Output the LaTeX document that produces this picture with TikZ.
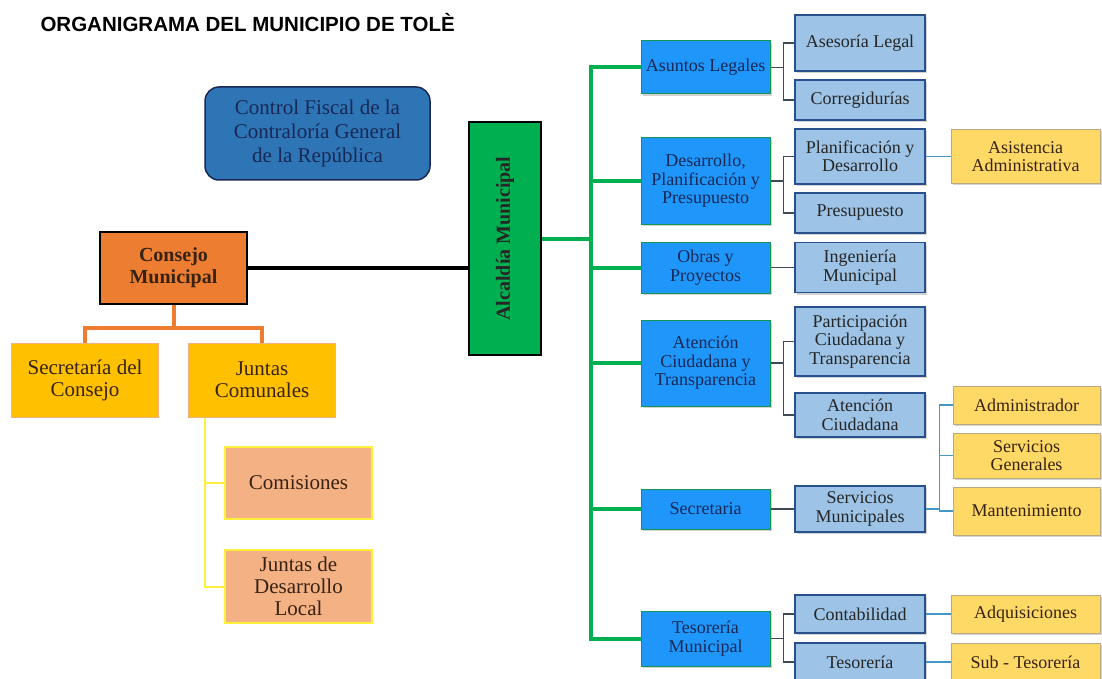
\documentclass[tikz,border=0pt]{standalone}
\usepackage{fontspec}
\setmainfont{Liberation Serif}
\newfontfamily\titrefont{Liberation Sans}
\usetikzlibrary{shadows}
\definecolor{bleufiscal}{RGB}{46,117,182}
\definecolor{bleuvif}{RGB}{30,150,250}
\definecolor{bleuclair}{RGB}{157,195,230}
\definecolor{bleubord}{RGB}{40,80,140}
\definecolor{marine}{RGB}{25,40,85}
\definecolor{vertalc}{RGB}{0,176,80}
\definecolor{vertbord}{RGB}{20,150,80}
\definecolor{orangec}{RGB}{237,125,49}
\definecolor{orsec}{RGB}{255,192,0}
\definecolor{saumon}{RGB}{244,177,131}
\definecolor{jaunec}{RGB}{255,217,102}
\definecolor{jaunebord}{RGB}{185,170,130}
\definecolor{jauneligne}{RGB}{255,240,60}
\definecolor{brun}{RGB}{55,35,20}
\definecolor{gristeal}{RGB}{60,75,85}
\definecolor{bleuligne}{RGB}{70,150,200}
\begin{document}
\begin{tikzpicture}[x=1pt,y=-1pt]
			\tikzstyle{boite}=[rectangle,inner sep=0pt,align=center]
			\tikzstyle{ombre}=[drop shadow={shadow xshift=1.5pt,shadow yshift=-2pt,opacity=0.35}]
			\tikzstyle{niveauA}=[boite,ombre,fill=bleuvif,draw=vertbord,line width=1pt,text=marine,font=\fontsize{18}{18.5}\selectfont,minimum width=\LargA]
			\tikzstyle{niveauB}=[boite,ombre,fill=bleuclair,draw=bleubord,line width=1.4pt,text=black!85,font=\fontsize{18}{18.5}\selectfont,minimum width=\LargB]
			\tikzstyle{niveauC}=[boite,ombre,fill=jaunec,draw=jaunebord,line width=1pt,text=brun,font=\fontsize{18}{18.5}\selectfont,minimum width=\LargC]
			\tikzstyle{conseil}=[boite,text=brun,font=\fontsize{21}{22}\selectfont,minimum width=147]
			\tikzstyle{tronc}=[draw=vertalc,line width=4pt]
			\tikzstyle{lienA}=[draw=gristeal,line width=1.2pt]
			\tikzstyle{lienB}=[draw=bleuligne,line width=1.2pt]
			\tikzstyle{lienorange}=[draw=orangec,line width=4pt]
			\tikzstyle{liennoir}=[draw=black,line width=3.5pt]
			\tikzstyle{lienjaune}=[draw=jauneligne,line width=2pt]
			
			\def\ColA{705.5}
			\def\ColB{860}
			\def\ColC{1025.5}
			\def\LargA{129}
			\def\LargB{130}
			\def\LargC{149}
			
			\useasboundingbox (0,0) rectangle (1102,679);
			
			\node[anchor=west,font=\titrefont\bfseries\fontsize{20.5}{22}\selectfont] (T) at (37,23) {ORGANIGRAMA DEL MUNICIPIO DE TOLÈ};
			
			\node[boite,fill=bleufiscal,draw=marine,line width=1.5pt,rounded corners=14pt,text=marine,font=\fontsize{21}{24}\selectfont,minimum width=225,minimum height=93] (F) at (317.5,133.5) {Control Fiscal de la\\Contraloría General\\de la República};
			
			\node[boite,fill=vertalc,draw=black,line width=1.5pt,rotate=90,font=\bfseries\fontsize{20}{22}\selectfont,text=black!85,minimum width=233,minimum height=72] (R) at (505,238.5) {Alcaldía Municipal};
			
			\node[conseil,fill=orangec,draw=black,line width=1.5pt,font=\bfseries\fontsize{20}{22}\selectfont,minimum height=72] (C) at (173.5,268) {Consejo\\Municipal};
			\node[conseil,fill=orsec,draw=saumon,line width=1pt,minimum height=74] (Ca) at (85,380) {Secretaría del\\Consejo};
			\node[conseil,fill=orsec,draw=saumon,line width=1pt,minimum height=74] (Cb) at (262,380) {Juntas\\Comunales};
			\node[conseil,fill=saumon,draw=jauneligne,line width=2pt,minimum height=72] (Cba) at (298.5,483) {Comisiones};
			\node[conseil,fill=saumon,draw=jauneligne,line width=2pt,minimum height=73] (Cbb) at (298.5,586.5) {Juntas de\\Desarrollo\\Local};
			
			\node[niveauA,minimum height=53] (Ra) at (\ColA,67.5) {Asuntos Legales};
			\node[niveauA,minimum height=86] (Rb) at (\ColA,181) {Desarrollo,\\Planificación y\\Presupuesto};
			\node[niveauA,minimum height=51] (Rc) at (\ColA,267.5) {Obras y\\Proyectos};
			\node[niveauA,minimum height=86] (Rd) at (\ColA,363) {Atención\\Ciudadana y\\Transparencia};
			\node[niveauA,minimum height=40] (Re) at (\ColA,509) {Secretaria};
			\node[niveauA,minimum height=55] (Rf) at (\ColA,638.5) {Tesorería\\Municipal};
			
			\node[niveauB,minimum height=56] (Raa) at (\ColB,43) {Asesoría Legal};
			\node[niveauB,minimum height=40] (Rab) at (\ColB,100) {Corregidurías};
			\node[niveauB,minimum height=55] (Rba) at (\ColB,156.5) {Planificación y\\Desarrollo};
			\node[niveauB,minimum height=40] (Rbb) at (\ColB,213) {Presupuesto};
			\node[niveauB,minimum height=50] (Rca) at (\ColB,267.5) {Ingeniería\\Municipal};
			\node[niveauB,minimum height=69] (Rda) at (\ColB,341.5) {Participación\\Ciudadana y\\Transparencia};
			\node[niveauB,minimum height=44] (Rdb) at (\ColB,415) {Atención\\Ciudadana};
			\node[niveauB,minimum height=46] (Rea) at (\ColB,509) {Servicios\\Municipales};
			\node[niveauB,minimum height=38] (Rfa) at (\ColB,614) {Contabilidad};
			\node[niveauB,minimum height=38] (Rfb) at (\ColB,662) {Tesorería};
			
			\node[niveauC,minimum height=54] (Rbaa) at (\ColC,156.5) {Asistencia\\Administrativa};
			\node[niveauC,minimum height=38,minimum width=147] (Reaa) at (1026.5,405) {Administrador};
			\node[niveauC,minimum height=45,minimum width=147] (Reab) at (1026.5,455.5) {Servicios\\Generales};
			\node[niveauC,minimum height=48,minimum width=147] (Reac) at (1026.5,511) {Mantenimiento};
			\node[niveauC,minimum height=38] (Rfaa) at (\ColC,614) {Adquisiciones};
			\node[niveauC,minimum height=38] (Rfba) at (\ColC,662) {Sub - Tesorería};
			
			\coordinate (Cm) at ([yshift=-23pt]C.south);
			\coordinate (Cy) at ([xshift=17pt]Cb.south west);
			\coordinate (Rm) at (591,238.5);
			
			\draw[liennoir] (C.east) -- (C.east -| R.north);
			\draw[lienorange] (C.south) -- (Cm);
			\draw[lienorange] (Ca.north) |- (Cm) -| (Cb.north);
			\draw[lienjaune] (Cy) |- (Cba.west);
			\draw[lienjaune] (Cy) |- (Cbb.west);
			
			\draw[tronc] (R.south) -- (Rm);
			\foreach \n in {Ra,Rb,Rc,Rd,Re,Rf}
				\draw[tronc] (Rm) |- (\n.west);
			
			\foreach \p/\e in {Ra/Raa,Ra/Rab,Rb/Rba,Rb/Rbb,Rd/Rda,Rd/Rdb,Rf/Rfa,Rf/Rfb}
				\draw[lienA] (\p.east) -- ++(13,0) |- (\e.west);
			\draw[lienA] (Rc) -- (Rca);
			\draw[lienA] (Re) -- (Rea);
			
			\draw[lienB] (Rba) -- (Rbaa);
			\draw[lienB] (Rfa) -- (Rfaa);
			\draw[lienB] (Rfb) -- (Rfba);
			\foreach \e in {Reaa,Reab,Reac}
				\draw[lienB] (Rea.east) -- ++(14,0) |- (\e.west);
		\end{tikzpicture}
\end{document}
